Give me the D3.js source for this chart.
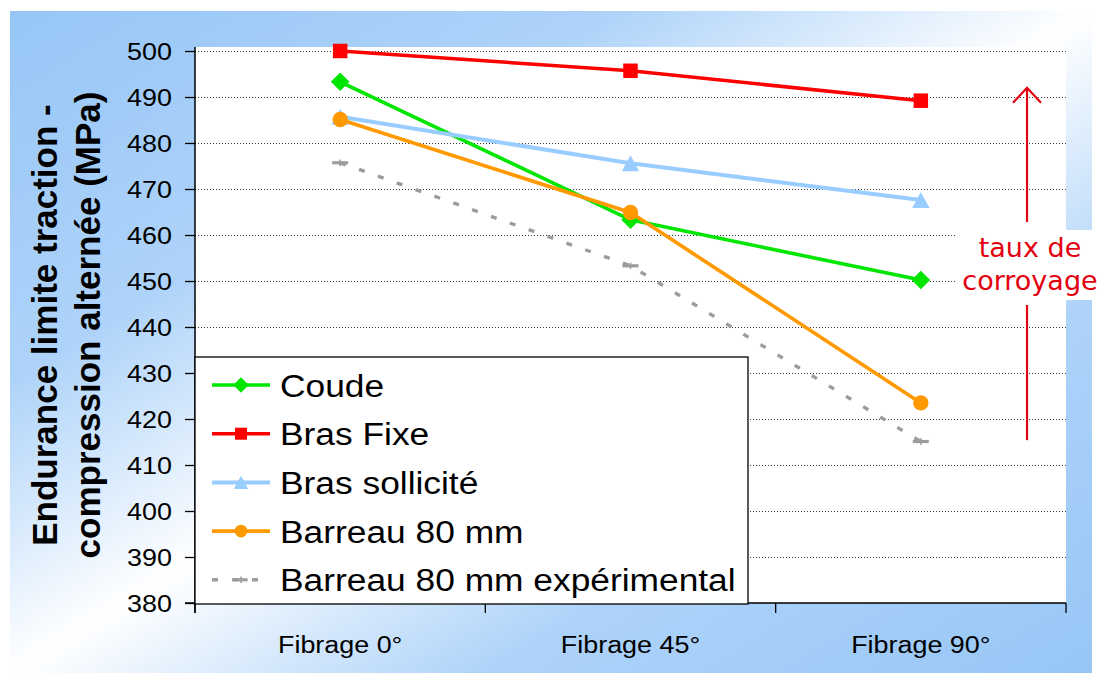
<!DOCTYPE html>
<html>
<head>
<meta charset="utf-8">
<script src="https://cdn.jsdelivr.net/npm/d3@7"></script>
<style>
  html, body { margin: 0; padding: 0; background: #fff; }
  svg { display: block; }
</style>
</head>
<body>
<svg id="chart" width="1104" height="673"></svg>
<script>
// Endurance limit (tension-compression, MPa) by fibre orientation
const categories = ["Fibrage 0°", "Fibrage 45°", "Fibrage 90°"];
const coude = [493.3, 463.3, 450.2];
const brasFixe = [500, 495.7, 489.2];
const brasSollicite = [485.7, 475.6, 467.6];
const barreau = [485.1, 464.9, 423.5];
const barreauExp = [475.7, 453.3, 415.1];
const yTicks = [380, 390, 400, 410, 420, 430, 440, 450, 460, 470, 480, 490, 500];
const seriesNames = ["Coude", "Bras Fixe", "Bras sollicité", "Barreau 80 mm", "Barreau 80 mm expérimental"];
const yTitle = ["Endurance limite traction -", "compression alternée (MPa)"];
const noteLines = ["taux de", "corroyage"];
const arrowRange = [492, 415.4]; // annotation arrow extent, in MPa

const sansFont = "'Liberation Sans', Arial, sans-serif";
const noteFont = "'DejaVu Sans', Verdana, sans-serif";

const series = [
  { name: seriesNames[0], values: coude, color: "#00e600", marker: "diamond", width: 3.6 },
  { name: seriesNames[1], values: brasFixe, color: "#ff0000", marker: "square", width: 3.6 },
  { name: seriesNames[2], values: brasSollicite, color: "#99ccff", marker: "triangle", width: 4 },
  { name: seriesNames[3], values: barreau, color: "#ff9900", marker: "circle", width: 3.6 },
  { name: seriesNames[4], values: barreauExp, color: "#9c9c9c", marker: "dash", width: 3.4, dash: "6,14" }
];

const svg = d3.select("#chart");
const plot = { left: 195, right: 1066, top: 47, bottom: 603 };
const stretch = 1.17;

// background gradient
const defs = svg.append("defs");
const grad = defs.append("linearGradient").attr("id", "bg")
  .attr("x1", 0).attr("y1", 0).attr("x2", 1).attr("y2", 1);
[[0, "#97c6f6"], [0.28, "#aed3f9"], [0.5, "#ffffff"], [0.72, "#aed3f9"], [1, "#97c6f6"]]
  .forEach(([o, c]) => grad.append("stop").attr("offset", o).attr("stop-color", c));

svg.append("rect").attr("x", 10).attr("y", 11).attr("width", 1082).attr("height", 662)
  .attr("fill", "url(#bg)");

svg.append("rect").attr("x", plot.left).attr("y", plot.top)
  .attr("width", plot.right - plot.left).attr("height", plot.bottom - plot.top)
  .attr("fill", "#fff");

const x = d3.scaleBand().domain(categories).range([plot.left, plot.right]);
const cx = c => x(c) + x.bandwidth() / 2;
const y = d3.scaleLinear().domain([380, 500]).range([603, 51]);

// gridlines
svg.append("g").selectAll("line").data(yTicks.filter(v => v > 380)).join("line")
  .attr("x1", plot.left).attr("x2", plot.right)
  .attr("y1", d => y(d)).attr("y2", d => y(d))
  .attr("stroke", "#333").attr("stroke-width", 1).attr("stroke-dasharray", "1,2")
  .attr("shape-rendering", "crispEdges");

// y axis
const yAxis = svg.append("g").attr("transform", `translate(${plot.left},0)`)
  .call(d3.axisLeft(y).tickValues(yTicks).tickSize(10).tickPadding(0).tickFormat(d3.format("d")));
yAxis.select(".domain").remove();
yAxis.selectAll(".tick line").attr("stroke", "#000").attr("stroke-width", 1.3);
yAxis.selectAll(".tick text")
  .attr("x", -23 / stretch).attr("dy", "0.35em")
  .attr("transform", `scale(${stretch},1)`)
  .style("font-family", sansFont).style("font-size", "23px").attr("fill", "#000");
svg.append("line").attr("x1", plot.left).attr("x2", plot.left)
  .attr("y1", plot.top).attr("y2", plot.bottom + 10)
  .attr("stroke", "#000").attr("stroke-width", 1.5);

// x axis
const xAxis = svg.append("g").attr("transform", `translate(0,${plot.bottom})`)
  .call(d3.axisBottom(x).tickSize(0).tickPadding(34));
xAxis.select(".domain").remove();
xAxis.selectAll(".tick text")
  .attr("transform", `scale(${stretch},1)`)
  .style("font-family", sansFont).style("font-size", "23px").attr("fill", "#000");
svg.append("line").attr("x1", plot.left - 10).attr("x2", plot.right)
  .attr("y1", plot.bottom).attr("y2", plot.bottom)
  .attr("stroke", "#000").attr("stroke-width", 1.5);
const bounds = categories.map(c => x(c)).concat([x(categories[categories.length - 1]) + x.bandwidth()]);
svg.append("g").selectAll("line").data(bounds).join("line")
  .attr("x1", d => d).attr("x2", d => d)
  .attr("y1", plot.bottom).attr("y2", plot.bottom + 10)
  .attr("stroke", "#000").attr("stroke-width", 1.3);

// y title
yTitle.forEach((t, i) => {
  svg.append("text")
    .attr("transform", `translate(${57 + i * 43},325) rotate(-90)`)
    .attr("text-anchor", "middle")
    .style("font-family", sansFont).style("font-size", "35px").style("font-weight", "bold")
    .attr("fill", "#000")
    .text(t);
});

// marker drawing
function drawMarker(g, type, color, s) {
  if (type === "square") {
    g.append("rect").attr("x", -s / 2).attr("y", -s / 2).attr("width", s).attr("height", s).attr("fill", color);
  } else if (type === "diamond") {
    const h = s * 0.64;
    g.append("path").attr("d", `M0,${-h}L${h},0L0,${h}L${-h},0Z`).attr("fill", color);
  } else if (type === "triangle") {
    const w = s * 0.6, h = s * 0.55;
    g.append("path").attr("d", `M0,${-h}L${w},${h}L${-w},${h}Z`).attr("fill", color);
  } else if (type === "circle") {
    g.append("circle").attr("r", s * 0.53).attr("fill", color);
  } else if (type === "dash") {
    g.append("rect").attr("x", -s * 0.55).attr("y", -1.6).attr("width", s * 1.1).attr("height", 3.2).attr("fill", color);
    g.append("rect").attr("x", -0.8).attr("y", -3.2).attr("width", 1.6).attr("height", 6.4).attr("fill", color);
  }
}

const line = d3.line().x((d, i) => cx(categories[i])).y(d => y(d));

// white box behind the annotation text
svg.append("rect").attr("x", 957).attr("y", 230).attr("width", 147).attr("height", 70).attr("fill", "#fff");

// series
series.forEach(s => {
  const g = svg.append("g");
  g.append("path").attr("d", line(s.values)).attr("fill", "none")
    .attr("stroke", s.color).attr("stroke-width", s.width)
    .attr("stroke-dasharray", s.dash || null);
  s.values.forEach((v, i) => {
    const mg = g.append("g").attr("transform", `translate(${cx(categories[i])},${y(v)})`);
    drawMarker(mg, s.marker, s.color, 14.5);
  });
});

// legend
const legend = svg.append("g");
legend.append("rect").attr("x", 195).attr("y", 357).attr("width", 553).attr("height", 247)
  .attr("fill", "#fff").attr("stroke", "#000").attr("stroke-width", 1.3);
series.forEach((s, i) => {
  const ly = 385 + i * 48.7;
  legend.append("line").attr("x1", 212).attr("x2", 270).attr("y1", ly).attr("y2", ly)
    .attr("stroke", s.color).attr("stroke-width", s.width)
    .attr("stroke-dasharray", s.dash ? "6,14" : null);
  const mg = legend.append("g").attr("transform", `translate(241,${ly})`);
  drawMarker(mg, s.marker, s.color, 12);
  legend.append("text")
    .attr("transform", `translate(280,${ly + 11.5}) scale(1.14,1)`)
    .style("font-family", sansFont).style("font-size", "31px")
    .attr("fill", "#000")
    .text(s.name);
});

// "taux de corroyage" annotation arrow
const red = "#e3000f";
const ax = 1027;
const yTop = y(arrowRange[0]);
svg.append("line").attr("x1", ax).attr("x2", ax).attr("y1", yTop).attr("y2", 222)
  .attr("stroke", red).attr("stroke-width", 2.2);
svg.append("path")
  .attr("d", `M${ax - 14},${yTop + 15}L${ax},${yTop}L${ax + 14},${yTop + 15}`)
  .attr("fill", "none").attr("stroke", red).attr("stroke-width", 2.2);
svg.append("line").attr("x1", ax).attr("x2", ax).attr("y1", 305).attr("y2", y(arrowRange[1]))
  .attr("stroke", red).attr("stroke-width", 2.2);
noteLines.forEach((t, i) => {
  svg.append("text").attr("x", 1030).attr("y", 257 + i * 33)
    .attr("text-anchor", "middle")
    .style("font-family", noteFont).style("font-size", "27px")
    .attr("fill", red)
    .text(t);
});
</script>
</body>
</html>
